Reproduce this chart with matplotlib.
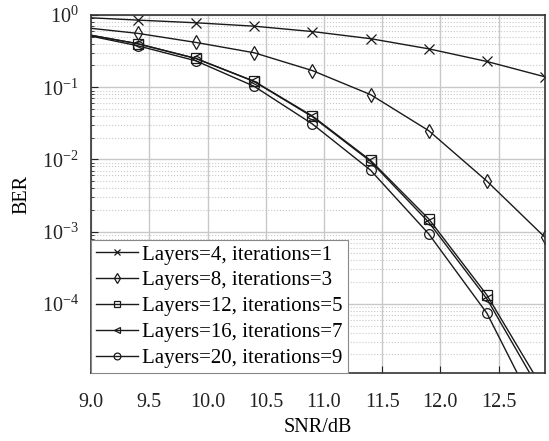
import matplotlib
matplotlib.use("Agg")
import matplotlib.pyplot as plt
import matplotlib.ticker as mticker

plt.rcParams["font.family"] = ["Liberation Serif", "DejaVu Serif"]
plt.rcParams["mathtext.fontset"] = "custom"
plt.rcParams["mathtext.rm"] = "Liberation Serif"
plt.rcParams["mathtext.it"] = "Liberation Serif:italic"

# SNR points (first one lies just left of the visible range)
snr = [8.9, 9.4, 9.9, 10.4, 10.9, 11.4, 11.9, 12.4, 12.9]

ber_l4 = [0.93, 0.85, 0.78, 0.70, 0.59, 0.47, 0.34, 0.227, 0.139]
ber_l8 = [0.68, 0.557, 0.417, 0.30, 0.17, 0.079, 0.025, 0.005, 0.00083]
ber_l12 = [0.56, 0.40, 0.25, 0.121, 0.040, 0.0097, 0.0015, 1.32e-4, 5.9e-6]
ber_l16 = [0.56, 0.40, 0.25, 0.120, 0.039, 0.0094, 0.00135, 1.17e-4, 4.7e-6]
ber_l20 = [0.55, 0.375, 0.232, 0.103, 0.031, 0.0071, 0.00093, 7.4e-5, 1.9e-6]

labels = ["Layers=4, iterations=1", "Layers=8, iterations=3",
          "Layers=12, iterations=5", "Layers=16, iterations=7",
          "Layers=20, iterations=9"]
markers = ["x", "d", "s", "<", "o"]
series = [ber_l4, ber_l8, ber_l12, ber_l16, ber_l20]

fig = plt.figure(figsize=(5.49, 4.41), dpi=100)
ax = fig.add_axes([0.166, 0.154, 0.827, 0.812])

for ber, mk, lab in zip(series, markers, labels):
    ax.semilogy(snr, ber, color="#1a1a1a", linewidth=1.0, marker=mk,
                markersize=7, markerfacecolor="none", markeredgewidth=0.9,
                label=lab)

ax.set_xlim(9.0, 12.9)
ax.set_ylim(1.1e-5, 1.0)
ax.xaxis.set_major_locator(mticker.MultipleLocator(0.5))
ax.xaxis.set_major_formatter(mticker.FormatStrFormatter("%.1f"))
ax.yaxis.set_major_locator(mticker.LogLocator(base=10, numticks=10))
ax.yaxis.set_minor_locator(mticker.LogLocator(base=10, subs=range(2, 10), numticks=10))
ax.yaxis.set_minor_formatter(mticker.NullFormatter())

ax.grid(which="major", color="#c8c8c8", linestyle="-", linewidth=1.0)
ax.grid(which="minor", axis="y", color="#c8c8c8", linestyle=":", linewidth=0.8)
ax.set_axisbelow(True)

ax.tick_params(which="both", direction="in", labelsize=14.5, colors="#222222")
ax.tick_params(which="major", length=5)
ax.tick_params(which="minor", length=2.5)
ax.tick_params(axis="x", pad=14)
ax.tick_params(axis="y", pad=9)
for sp in ax.spines.values():
    sp.set_linewidth(1.2)
    sp.set_color("#333333")

ax.set_xlabel("SNR/dB", fontsize=14.5, labelpad=5)
ax.set_ylabel("BER", fontsize=14.5, labelpad=7)

leg = ax.legend(loc="lower left", fontsize=15, borderaxespad=0.0,
                fancybox=False, framealpha=1.0, edgecolor="#888888",
                handlelength=2.0, markerscale=0.7, labelspacing=0.3,
                handletextpad=0.2, borderpad=0.25)
leg.get_frame().set_linewidth(0.8)

fig.savefig("out.png", dpi=100)
